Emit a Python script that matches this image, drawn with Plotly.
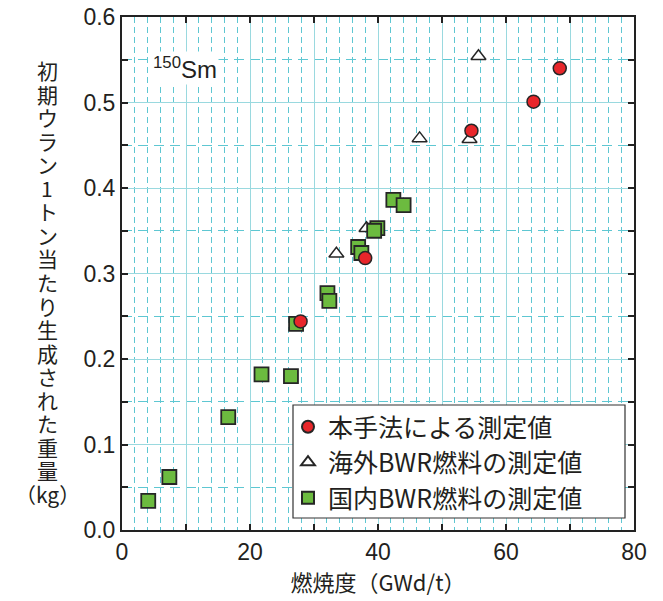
import plotly.graph_objects as go

# Data
method_x = [68.4, 64.3, 54.6, 38.0, 27.9]
method_y = [0.540, 0.501, 0.467, 0.318, 0.244]

overseas_x = [55.7, 46.5, 54.3, 33.5, 38.2]
overseas_y = [0.554, 0.458, 0.457, 0.323, 0.353]

domestic_x = [42.4, 44.0, 39.9, 39.4, 36.9, 37.4, 32.1, 32.4, 27.2, 21.8, 26.4, 16.6, 7.4, 4.1]
domestic_y = [0.386, 0.380, 0.353, 0.350, 0.331, 0.324, 0.277, 0.268, 0.241, 0.182, 0.180, 0.132, 0.062, 0.034]

names = ["本手法による測定値", "海外BWR燃料の測定値", "国内BWR燃料の測定値"]
x_ticks = [0, 10, 20, 30, 40, 50, 60, 70, 80]
x_ticktext = ["0", " ", "20", " ", "40", " ", "60", " ", "80"]
y_ticks = [0.0, 0.1, 0.2, 0.3, 0.4, 0.5, 0.6]
y_ticktext = ["0.0", "0.1", "0.2", "0.3", "0.4", "0.5", "0.6"]
y_title_parts = ["初", "期", "ウ", "ラ", "ン", "1", "ト", "ン", "当", "た", "り",
                 "生", "成", "さ", "れ", "た", "重", "量", "（kg）"]
x_title = "燃焼度（GWd/t）"

FONT = "Liberation Sans"
CJK = "Noto Sans CJK JP"
RED = "#e8262a"
GREEN = "#6cbb3f"
EDGE = "#262626"
TXT = "#231f20"

# page body has an 8px default margin; figure is placed at (8, 8)
OFF = 8
W, H = 663 - OFF, 601 - OFF
plot_left, plot_right, plot_top, plot_bottom = 122 - OFF, 634 - OFF, 17 - OFF, 530 - OFF
plot_w = plot_right - plot_left
plot_h = plot_bottom - plot_top


def px_x(p):
    return (p - OFF - plot_left) / plot_w


def px_y(p):
    return (plot_bottom - (p - OFF)) / plot_h


fig = go.Figure()
fig.add_trace(go.Scatter(
    x=overseas_x, y=overseas_y, mode="markers", name=names[1], legendrank=2,
    marker=dict(symbol="triangle-up", size=13, color="white", line=dict(color=EDGE, width=1.5)),
))
fig.add_trace(go.Scatter(
    x=domestic_x, y=domestic_y, mode="markers", name=names[2], legendrank=3,
    marker=dict(symbol="square", size=14, color=GREEN, line=dict(color=EDGE, width=1.8)),
))
fig.add_trace(go.Scatter(
    x=method_x, y=method_y, mode="markers", name=names[0], legendrank=1,
    marker=dict(symbol="circle", size=13, color=RED, line=dict(color=EDGE, width=1.5)),
))

# Legend box (white, black border) drawn over the grid, under the legend entries
fig.add_shape(
    type="rect", xref="paper", yref="paper",
    x0=px_x(293), x1=px_x(625), y0=px_y(518), y1=px_y(405),
    fillcolor="white", line=dict(color="#333", width=1.2), layer="above",
)

# Stacked vertical y title, one character per line
first_c, last_c = 70, 494
n = len(y_title_parts)
for i, ch in enumerate(y_title_parts):
    py = first_c + (last_c - first_c) * i / (n - 1)
    fig.add_annotation(
        text=ch, xref="paper", yref="paper",
        x=px_x(47), y=px_y(py),
        xanchor="center", yanchor="middle", showarrow=False,
        font=dict(family=CJK, size=21, color=TXT),
    )

fig.add_annotation(
    text="<sup>150</sup>Sm", xref="x", yref="y", x=9.9, y=0.540,
    xanchor="center", yanchor="middle", showarrow=False,
    font=dict(family=FONT, size=24, color=TXT), bgcolor="white",
)

fig.update_layout(
    width=W, height=H,
    margin=dict(l=plot_left, r=W - plot_right, t=plot_top, b=H - plot_bottom, autoexpand=False),
    paper_bgcolor="white", plot_bgcolor="white",
    font=dict(family=FONT, size=22, color=TXT),
    showlegend=True,
    legend=dict(
        x=px_x(288), y=px_y(404),
        xanchor="left", yanchor="top",
        bgcolor="rgba(0,0,0,0)", borderwidth=0,
        font=dict(family=CJK, size=25, color=TXT),
        itemsizing="constant",
    ),
)

fig.update_xaxes(
    range=[0, 80], tickvals=x_ticks, ticktext=x_ticktext, automargin=False,
    ticklabeloverflow="allow",
    showgrid=True, gridcolor="#9ad9df", gridwidth=1,
    ticks="inside", ticklen=6, tickcolor="#222", tickwidth=1.5,
    showline=True, linecolor="#222", linewidth=2, mirror="ticks",
    zeroline=False,
    minor=dict(dtick=2, showgrid=True, gridcolor="#5ec7d2", griddash="6px,4px", gridwidth=1, ticks=""),
    title=dict(text=x_title, font=dict(family=CJK, size=22, color=TXT), standoff=12),
    tickfont=dict(family=FONT, size=23, color=TXT),
)
fig.update_yaxes(
    range=[0, 0.6], tickvals=y_ticks, ticktext=y_ticktext, automargin=False,
    ticklabeloverflow="allow",
    showgrid=True, gridcolor="#9ad9df", gridwidth=1,
    ticks="inside", ticklen=6, tickcolor="#222", tickwidth=1.5,
    showline=True, linecolor="#222", linewidth=2, mirror="ticks",
    zeroline=False,
    minor=dict(dtick=0.05, showgrid=True, gridcolor="#5ec7d2", griddash="10px,6px", gridwidth=1,
               ticks="inside", ticklen=6, tickcolor="#222", tickwidth=1.5),
    tickfont=dict(family=FONT, size=23, color=TXT),
)

fig.write_html("out.html")
